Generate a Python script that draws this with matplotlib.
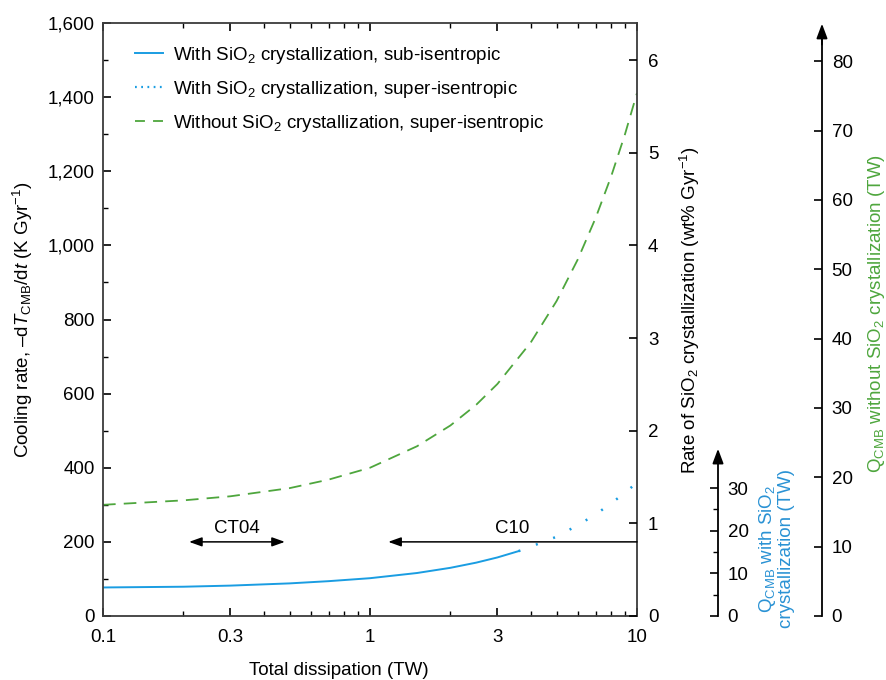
import numpy as np
import matplotlib
matplotlib.use("Agg")
import matplotlib.pyplot as plt
from matplotlib.lines import Line2D
from matplotlib.ticker import FixedLocator, NullFormatter
from matplotlib.transforms import blended_transform_factory

plt.rcParams["font.family"] = ["Liberation Sans", "DejaVu Sans"]
plt.rcParams["mathtext.fontset"] = "custom"
plt.rcParams["mathtext.rm"] = "Liberation Sans"
plt.rcParams["mathtext.it"] = "Liberation Sans:italic"
plt.rcParams["mathtext.bf"] = "Liberation Sans:bold"

# --- data --------------------------------------------------------------------------
# without SiO2 crystallization, super-isentropic (K/Gyr)
x_without = [0.1, 0.2, 0.3, 0.5, 0.7, 1.0, 1.5, 2.0, 2.5, 3.0, 4.0, 5.0, 6.0, 7.0, 8.0, 9.0, 10.0]
y_without = [300, 312, 323, 345, 368, 400, 458, 514, 570, 626, 738, 850, 962, 1074, 1186, 1298, 1411]
# with SiO2 crystallization, sub-isentropic
x_sub = [0.1, 0.2, 0.3, 0.5, 0.7, 1.0, 1.5, 2.0, 2.5, 3.0, 3.6]
y_sub = [77, 79, 82, 88, 94, 102, 116, 130, 144, 158, 175]
# with SiO2 crystallization, super-isentropic
x_super = [3.6, 4.0, 5.0, 6.0, 7.0, 8.0, 9.0, 10.0]
y_super = [175, 187, 214, 245, 274, 304, 332, 360]

ct04_range = [0.21, 0.48]
c10_range = [1.17, 10.0]
range_level = 200

x_ticks = [0.1, 0.3, 1, 3, 10]
x_ticklabels = ["0.1", "0.3", "1", "3", "10"]
y_ticks = [0, 200, 400, 600, 800, 1000, 1200, 1400, 1600]
y_ticklabels = ["0", "200", "400", "600", "800", "1,000", "1,200", "1,400", "1,600"]
rate_ticks = [0, 1, 2, 3, 4, 5, 6]
q_with_ticks = [0, 10, 20, 30]
q_without_ticks = [0, 10, 20, 30, 40, 50, 60, 70, 80]

BLUE = "#1a9de2"
GREEN = "#4ea63d"
BLUE_TXT = "#2a92d4"
SPINE = "#3c3c3c"
FS = 13.5
GREEN_DASH = (7.0, 4.5)

fig = plt.figure(figsize=(8.86, 6.80), dpi=100)
ax = fig.add_axes([103 / 886, 64 / 680, 534 / 886, 593 / 680])

ax.plot(x_without, y_without, color=GREEN, lw=1.3, dashes=GREEN_DASH)
ax.plot(x_sub, y_sub, color=BLUE, lw=1.4)
ax.plot(x_super, y_super, color=BLUE, lw=1.8, dashes=(0.8, 6.6))

ax.set_xscale("log")
ax.set_xlim(0.1, 10)
ax.set_ylim(0, 1600)
ax.set_xticks(x_ticks)
ax.set_xticklabels(x_ticklabels)
ax.xaxis.set_minor_formatter(NullFormatter())
ax.set_yticks(y_ticks)
ax.set_yticklabels(y_ticklabels)
ax.yaxis.set_minor_locator(FixedLocator(np.arange(100, 1600, 200)))
ax.tick_params(axis="both", which="both", direction="in", labelsize=FS, top=True, right=False)
ax.tick_params(axis="both", which="major", length=6, width=1.2, color="k")
ax.tick_params(axis="both", which="minor", length=3.5, width=1.0, color="k")
ax.tick_params(axis="x", pad=9)
ax.tick_params(axis="y", pad=6)
for s in ax.spines.values():
    s.set_color(SPINE)
    s.set_linewidth(1.3)

ax.set_xlabel("Total dissipation (TW)", fontsize=FS)
ax.xaxis.set_label_coords(0.442, -0.077)
ax.set_ylabel(r"Cooling rate, –d$T_{\mathrm{CMB}}$/d$t$ (K Gyr$^{-1}$)", fontsize=FS)
ax.yaxis.set_label_coords(-0.128, 0.5)

# range markers
arrow_kw = dict(color="k", lw=1.1, shrinkA=0, shrinkB=0, mutation_scale=11)
ax.annotate("", xy=(ct04_range[0], range_level), xytext=(ct04_range[1], range_level),
            arrowprops=dict(arrowstyle="<|-|>,head_length=0.7,head_width=0.25", **arrow_kw))
ax.text(np.sqrt(ct04_range[0] * ct04_range[1]), range_level + 12, "CT04",
        ha="center", va="bottom", fontsize=FS)
ax.annotate("", xy=(c10_range[0], range_level), xytext=(c10_range[1], range_level),
            arrowprops=dict(arrowstyle="-|>,head_length=0.7,head_width=0.25", **arrow_kw))
ax.text(3.4, range_level + 12, "C10", ha="center", va="bottom", fontsize=FS)

# legend
handles = [
    Line2D([], [], color=BLUE, lw=1.4),
    Line2D([], [], color=BLUE, lw=1.6, dashes=(0.8, 2.0)),
    Line2D([], [], color=GREEN, lw=1.3, dashes=(5.5, 4.5)),
]
labels = [
    "With SiO$_2$ crystallization, sub-isentropic",
    "With SiO$_2$ crystallization, super-isentropic",
    "Without SiO$_2$ crystallization, super-isentropic",
]
ax.legend(handles, labels, loc="upper left", bbox_to_anchor=(0.02, 1.0), frameon=False,
          fontsize=FS, handlelength=1.5, handletextpad=0.5, labelspacing=0.7,
          borderaxespad=0.75)

# rate of SiO2 crystallization (right spine of the main box)
ax_rate = ax.twinx()
ax_rate.set_ylim(0, 6.40)
ax_rate.set_yticks(rate_ticks)
ax_rate.tick_params(axis="y", direction="in", length=6, width=1.2, labelsize=FS, pad=8)
for s in ax_rate.spines.values():
    s.set_visible(False)
ax_rate.set_ylabel("Rate of SiO$_2$ crystallization (wt% Gyr$^{-1}$)", fontsize=FS)
ax_rate.yaxis.set_label_coords(1.077, 0.515)


def q_axis(pos, top, arrow_top, ticks, minor, color, label, label_xy):
    q = ax.twinx()
    q.set_ylim(0, top)
    for name, s in q.spines.items():
        s.set_visible(name == "right")
    q.spines["right"].set_position(("axes", pos))
    q.spines["right"].set_bounds(0, arrow_top - 2)
    q.spines["right"].set_linewidth(1.3)
    q.set_yticks(ticks)
    if minor:
        q.yaxis.set_minor_locator(FixedLocator(minor))
    q.tick_params(axis="y", which="both", direction="in", labelsize=FS, pad=7)
    q.tick_params(axis="y", which="major", length=6, width=1.2)
    q.tick_params(axis="y", which="minor", length=3.5, width=1.0)
    tr = blended_transform_factory(q.transAxes, q.transData)
    q.annotate("", xy=(pos, arrow_top), xytext=(pos, arrow_top - 3), xycoords=tr,
               textcoords=tr, annotation_clip=False,
               arrowprops=dict(arrowstyle="-|>,head_length=0.8,head_width=0.3", color="k",
                               lw=1.3, shrinkA=0, shrinkB=0, mutation_scale=11))
    q.text(label_xy[0], label_xy[1], label, transform=ax.transAxes, rotation=90,
           ha="center", va="center", color=color, fontsize=FS, linespacing=1.0,
           multialignment="center")
    return q


q_axis(1.1517, 139, 39.2, q_with_ticks, [5, 15, 25], BLUE_TXT,
       "$\\mathrm{Q}_{\\mathrm{CMB}}$ with SiO$_2$\ncrystallization (TW)",
       ((776 - 103) / 534, (616 - 549) / 593))
q_axis(1.3464, 85.5, 85.4, q_without_ticks, None, GREEN,
       "$\\mathrm{Q}_{\\mathrm{CMB}}$ without SiO$_2$ crystallization (TW)",
       ((877 - 103) / 534, 0.51))

fig.savefig("out.png", dpi=100)
